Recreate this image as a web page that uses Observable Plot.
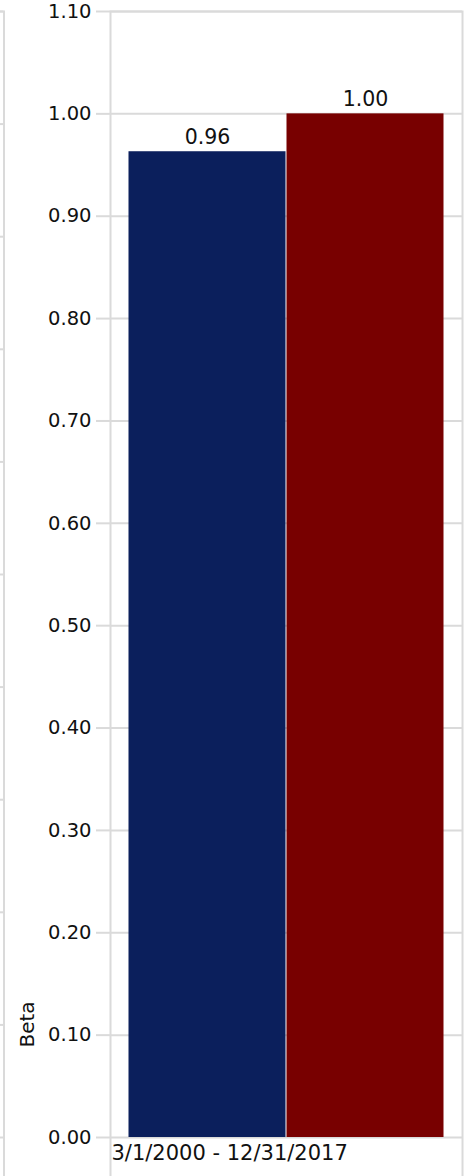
<!DOCTYPE html>
<html>
<head>
<meta charset="utf-8">
<script src="https://cdn.jsdelivr.net/npm/d3@7"></script>
<script src="https://cdn.jsdelivr.net/npm/@observablehq/plot@0.6"></script>
<style>
  body { margin: 0; background: #fff; }
  #wrap { position: relative; width: 469px; height: 1176px; font-family: "DejaVu Sans", Verdana, sans-serif; }
  #wrap svg { position: absolute; left: 0; top: 0; }
</style>
</head>
<body>
<div id="wrap"></div>
<script>
// ---- data ----
const period = ["3/1/2000 - 12/31/2017"];
const series = ["Fund", "Benchmark"];
const betaValues = [0.963, 1.00];
const betaLabels = ["0.96", "1.00"];
const seriesColors = ["#0b1f5c", "#780000"];
const yTicks = [0, 0.1, 0.2, 0.3, 0.4, 0.5, 0.6, 0.7, 0.8, 0.9, 1.0, 1.1];
const yLabel = "Beta";
// gridlines of the neighbouring (cropped) chart on the left edge
const neighborTicks = [0, 0.1, 0.2, 0.3, 0.4, 0.5, 0.6, 0.7, 0.8, 0.9, 1.0];

const rows = series.map((s, i) => ({series: s, value: betaValues[i], label: betaLabels[i]}));
const gridColor = "#dadada";
const font = "'DejaVu Sans', Verdana, sans-serif";

const main = Plot.plot({
  width: 469,
  height: 1176,
  marginLeft: 110,
  marginRight: 7,
  marginTop: 11,
  marginBottom: 39,
  style: {fontFamily: font, fontSize: "20px", background: "transparent", overflow: "visible"},
  x: {domain: series, paddingInner: 0, paddingOuter: 0.11, axis: null},
  y: {domain: [0, 1.1], axis: null},
  color: {domain: series, range: seriesColors},
  marks: [
    Plot.gridY(yTicks, {stroke: gridColor, strokeWidth: 2, strokeOpacity: 1}),
    Plot.frame({stroke: gridColor, strokeWidth: 2, insetBottom: -41}),
    Plot.axisY(yTicks, {
      tickFormat: d3.format(".2f"),
      tickSize: 14,
      tickPadding: 5,
      stroke: gridColor,
      strokeWidth: 2,
      strokeOpacity: 1,
      fill: "#111",
      fontSize: 19.5,
      label: null
    }),
    Plot.barY(rows, {x: "series", y: "value", fill: "series", insetLeft: 0.5, insetRight: 0.5}),
    Plot.text(rows, {x: "series", y: "value", text: "label", dy: -14, fill: "#111", fontSize: 20.5}),
    Plot.text(period, {frameAnchor: "bottom-left", textAnchor: "start", dx: 1, dy: 22, fill: "#111", fontSize: 21}),
    Plot.text([yLabel], {frameAnchor: "bottom-left", rotate: -90, dx: -77, dy: -90, fill: "#111", fontSize: 20})
  ]
});

const neighbor = Plot.plot({
  width: 5,
  height: 1176,
  marginLeft: 0,
  marginRight: 1.5,
  marginTop: 11,
  marginBottom: 39,
  style: {background: "transparent", overflow: "visible"},
  x: {axis: null},
  y: {domain: [0, 1], axis: null},
  marks: [
    Plot.gridY(neighborTicks, {stroke: gridColor, strokeWidth: 2, strokeOpacity: 1}),
    Plot.frame({stroke: gridColor, strokeWidth: 2, insetLeft: -20, insetBottom: -41})
  ]
});

const wrap = document.getElementById("wrap");
wrap.appendChild(main);
wrap.appendChild(neighbor);
</script>
</body>
</html>
